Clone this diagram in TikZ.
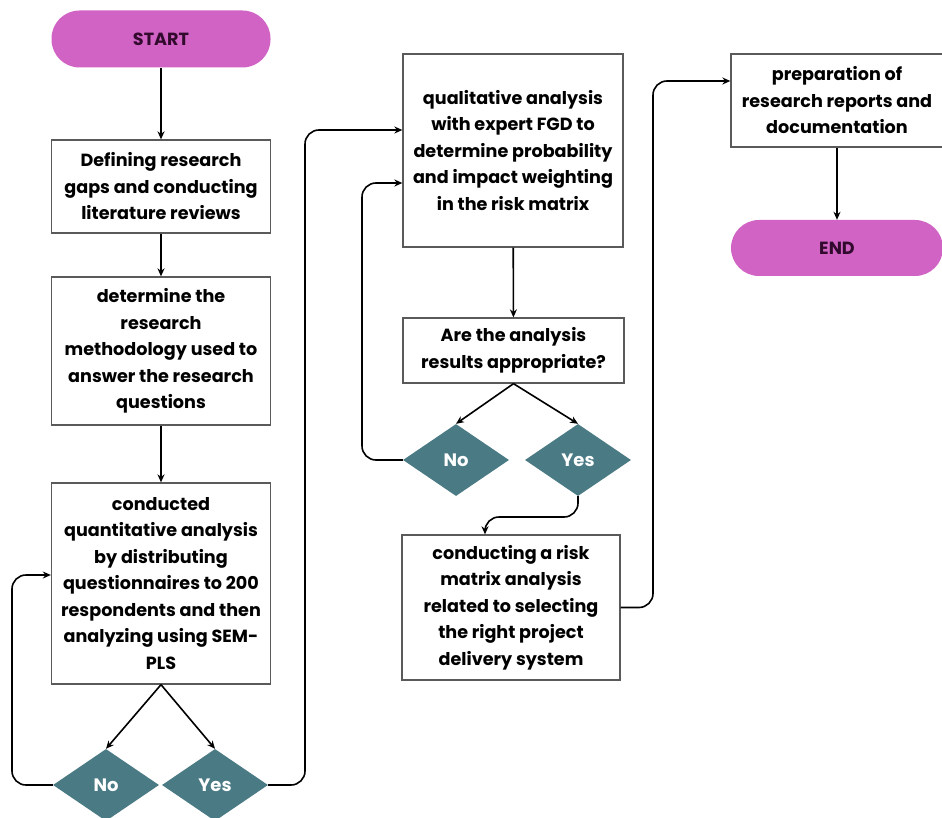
\documentclass[tikz,border=0pt]{standalone}
\usepackage{fontspec}
\setmainfont{Poppins}
\usetikzlibrary{shapes.geometric,arrows.meta,calc}
\definecolor{pill}{RGB}{208,99,196}
\definecolor{pilltext}{RGB}{50,10,45}
\definecolor{teal}{RGB}{74,122,132}
\definecolor{boxline}{RGB}{90,90,90}
\tikzset{
  every node/.style={font=\fontsize{17.6}{26.5}\selectfont\bfseries, align=center, text=black},
  pillbox/.style={fill=pill, rounded corners=28pt, text=pilltext, inner sep=0pt},
  stepbox/.style={draw=boxline, line width=1.3pt, fill=white, inner sep=0pt},
  decision/.style={diamond, fill=teal, text=white, inner sep=0pt, minimum width=106pt, minimum height=72pt, aspect=1.47, font=\fontsize{18}{20}\selectfont\bfseries},
  conn/.style={draw=black, line width=1.6pt, -{Stealth[length=8pt,width=7pt]}, rounded corners=14pt},
}
\begin{document}
\begin{tikzpicture}[x=1pt,y=-1pt]
\useasboundingbox (0,0) rectangle (942,818);
\fill[white] (0,0) rectangle (942,818);
% column 1
\node[pillbox, minimum width=219pt, minimum height=57pt] (start) at (161,39) {START};
\node[stepbox, minimum width=219pt, minimum height=93pt] (b1) at (161,186.5) {Defining research\\gaps and conducting\\literature reviews};
\node[stepbox, minimum width=219pt, minimum height=148pt] (b2) at (161,351) {determine the\\research\\methodology used to\\answer the research\\questions};
\node[stepbox, minimum width=219pt, minimum height=201pt] (b3) at (161,583.5) {conducted\\quantitative analysis\\by distributing\\questionnaires to 200\\respondents and then\\analyzing using SEM-\\PLS};
\node[decision] (no1) at (106,785) {No};
\node[decision] (yes1) at (215,785) {Yes};
% column 2
\node[stepbox, minimum width=220pt, minimum height=193pt] (b4) at (513,150.5) {qualitative analysis\\with expert FGD to\\determine probability\\and impact weighting\\in the risk matrix};
\node[stepbox, minimum width=221pt, minimum height=65pt] (b5) at (513.5,350.5) {Are the analysis\\results appropriate?};
\node[decision] (no2) at (456,460) {No};
\node[decision] (yes2) at (578,460) {Yes};
\node[stepbox, minimum width=218pt, minimum height=145pt] (b6) at (511,607.5) {conducting a risk\\matrix analysis\\related to selecting\\the right project\\delivery system};
% column 3
\node[stepbox, minimum width=212pt, minimum height=93pt] (b7) at (837,100.5) {preparation of\\research reports and\\documentation};
\node[pillbox, minimum width=212pt, minimum height=56pt] (end) at (837,248) {END};
% connectors
\draw[conn] (start) -- (b1);
\draw[conn] (b1) -- (b2);
\draw[conn] (b2) -- (b3);
\draw[conn] (b3.south) -- (no1.north);
\draw[conn] (b3.south) -- (yes1.north);
\draw[conn] (no1.west) -| (12,620) |- (b3.west |- 0,575);
\draw[conn] (yes1.east) -| (305,300) |- (b4.west |- 0,130);
\draw[conn] (b4) -- (b5);
\draw[conn] (b5.south) -- (no2.north);
\draw[conn] (b5.south) -- (yes2.north);
\draw[conn] (no2.west) -| (362,300) |- (b4.west |- 0,183);
\draw[conn] (yes2.south) |- (485,517) -- (b6.north -| 485,0);
\draw[conn] (b6.east) -| (653,300) |- (b7.west |- 0,81);
\draw[conn] (b7) -- (end);
\end{tikzpicture}
\end{document}
